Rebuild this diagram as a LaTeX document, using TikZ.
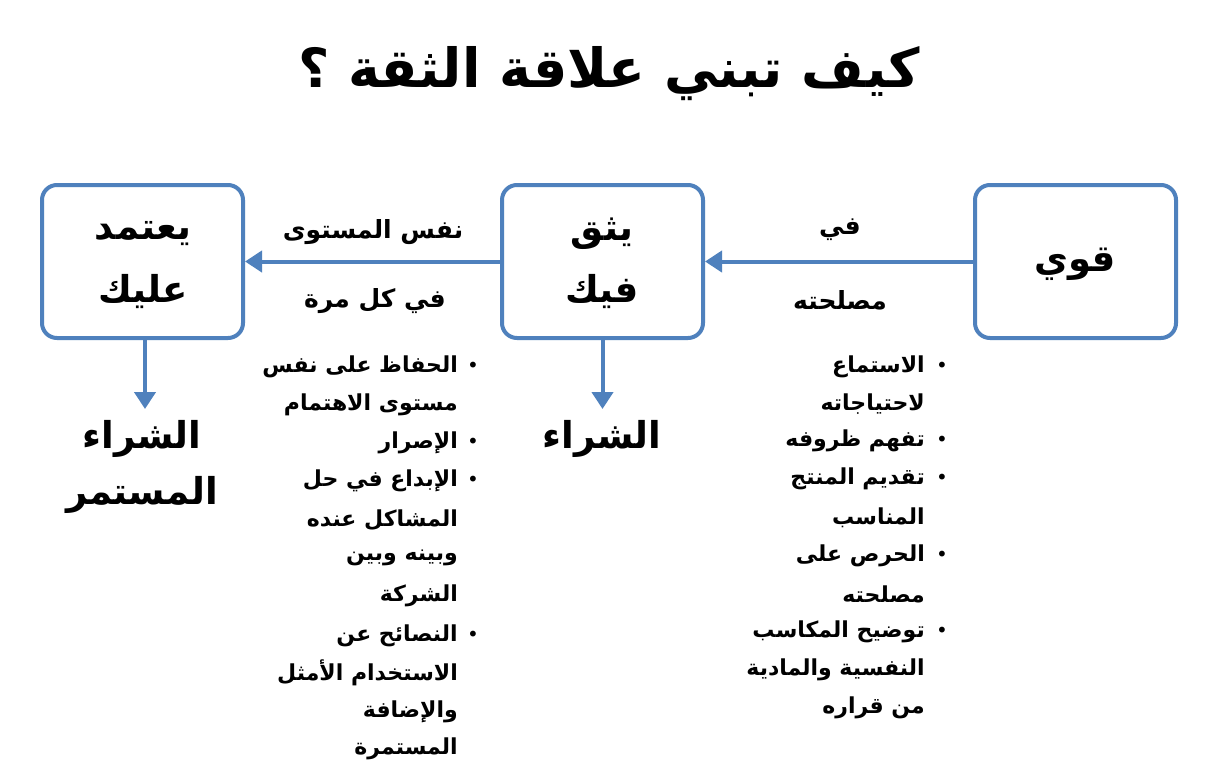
\documentclass[tikz,border=0pt]{standalone}
\usepackage{fontspec}
\usetikzlibrary{arrows.meta}
\TeXXeTstate=1
\newfontfamily\arabicfont[Script=Arabic]{DejaVu Sans}
\definecolor{boxblue}{HTML}{4F81BD}
\tikzset{
  boxnode/.style={draw=boxblue, line width=4pt, rounded corners=15pt, minimum width=201pt, minimum height=153pt, inner sep=0pt},
  bigtxt/.style={font=\arabicfont\bfseries\fontsize{37}{50}\selectfont, align=center, inner sep=0pt},
  lbltxt/.style={font=\arabicfont\bfseries\fontsize{25}{30}\selectfont, inner sep=0pt},
  listtxt/.style={font=\arabicfont\bfseries\fontsize{22}{26}\selectfont, inner sep=0pt, anchor=east},
  bul/.style={font=\arabicfont\fontsize{20}{24}\selectfont, inner sep=0pt},
  conn/.style={draw=boxblue, line width=4pt, -{Triangle[length=17pt,width=21pt]}},
}
\begin{document}
\begin{tikzpicture}[x=1pt,y=-1pt]
\useasboundingbox (0,0) rectangle (1209,769);
\fill[white] (0,0) rectangle (1209,769);
% title
\node[font=\arabicfont\bfseries\fontsize{54}{64}\selectfont, inner sep=0pt] (title) at (609,74) {\beginR كيف تبني علاقة الثقة ؟\endR};
% boxes
\node[boxnode] (b3) at (1075.5,261.5) {};
\node[boxnode] (b2) at (602.5,261.5) {};
\node[boxnode] (b1) at (142.5,261.5) {};
\node[bigtxt] (t3) at (1075,264) {\beginR قوي\endR};
\node[bigtxt] (t2a) at (602,234) {\beginR يثق\endR};
\node[bigtxt] (t2b) at (602,292) {\beginR فيك\endR};
\node[bigtxt] (t1a) at (143,234) {\beginR يعتمد\endR};
\node[bigtxt] (t1b) at (143,292) {\beginR عليك\endR};
% horizontal connectors
\draw[conn] (b3.west) -- (b2.east);
\draw[conn] (b2.west) -- (b1.east);
\node[lbltxt] (l1) at (840,230) {\beginR في\endR};
\node[lbltxt] (l2) at (840,300) {\beginR مصلحته\endR};
\node[lbltxt] (l3) at (373,232) {\beginR نفس المستوى\endR};
\node[lbltxt] (l4) at (375,301) {\beginR في كل مرة\endR};
% down connectors
\coordinate (d1) at (145,409);
\coordinate (d2) at (602.5,409);
\draw[conn] (b1.south -| d1) -- (d1);
\draw[conn] (b2.south) -- (d2);
\node[bigtxt] (p2) at (602,439) {\beginR الشراء\endR};
\node[bigtxt] (p1a) at (142,439) {\beginR الشراء\endR};
\node[bigtxt] (p1b) at (142,495) {\beginR المستمر\endR};
% right list
\node[bul] (rb1) at (942,367) {•};
\node[listtxt] (r1) at (925,367) {\beginR الاستماع\endR};
\node[listtxt] (r2) at (925,404) {\beginR لاحتياجاته\endR};
\node[bul] (rb2) at (942,441) {•};
\node[listtxt] (r3) at (925,441) {\beginR تفهم ظروفه\endR};
\node[bul] (rb3) at (942,479) {•};
\node[listtxt] (r4) at (925,479) {\beginR تقديم المنتج\endR};
\node[listtxt] (r5) at (925,518) {\beginR المناسب\endR};
\node[bul] (rb4) at (942,556) {•};
\node[listtxt] (r6) at (925,556) {\beginR الحرص على\endR};
\node[listtxt] (r7) at (925,594) {\beginR مصلحته\endR};
\node[bul] (rb5) at (942,632) {•};
\node[listtxt] (r8) at (925,632) {\beginR توضيح المكاسب\endR};
\node[listtxt] (r9) at (925,670) {\beginR النفسية والمادية\endR};
\node[listtxt] (r10) at (925,708) {\beginR من قراره\endR};
% left list
\node[bul] (lb1) at (473,367) {•};
\node[listtxt] (s1) at (458,367) {\beginR الحفاظ على نفس\endR};
\node[listtxt] (s2) at (458,405) {\beginR مستوى الاهتمام\endR};
\node[bul] (lb2) at (473,443) {•};
\node[listtxt] (s3) at (458,443) {\beginR الإصرار\endR};
\node[bul] (lb3) at (473,481) {•};
\node[listtxt] (s4) at (458,481) {\beginR الإبداع في حل\endR};
\node[listtxt] (s5) at (458,520) {\beginR المشاكل عنده\endR};
\node[listtxt] (s6) at (458,558) {\beginR وبينه وبين\endR};
\node[listtxt] (s7) at (458,596) {\beginR الشركة\endR};
\node[bul] (lb4) at (473,636) {•};
\node[listtxt] (s8) at (458,636) {\beginR النصائح عن\endR};
\node[listtxt] (s9) at (458,673) {\beginR الاستخدام الأمثل\endR};
\node[listtxt] (s10) at (458,712) {\beginR والإضافة\endR};
\node[listtxt] (s11) at (458,749) {\beginR المستمرة\endR};
\end{tikzpicture}
\end{document}
